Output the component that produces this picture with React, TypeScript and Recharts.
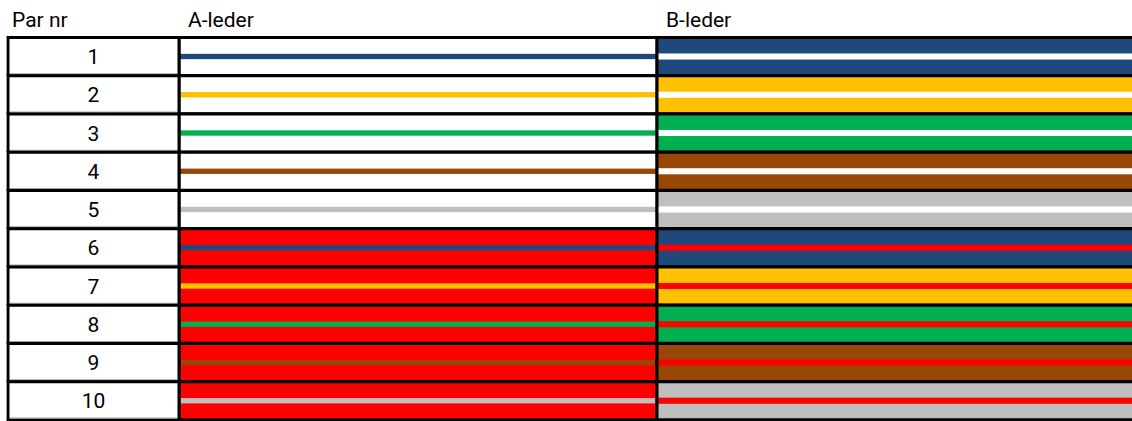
import React from 'react';
import { BarChart, Bar, XAxis, YAxis, Label } from 'recharts';

if (typeof document !== 'undefined') {
  document.body.style.margin = '0';
}

const pairs = ['1', '2', '3', '4', '5', '6', '7', '8', '9', '10'];
const pairColors = ['#1F497D', '#FFC000', '#00B050', '#974706', '#BFBFBF', '#1F497D', '#FFC000', '#00B050', '#974706', '#BFBFBF'];
const markerColors = ['#FFFFFF', '#FFFFFF', '#FFFFFF', '#FFFFFF', '#FFFFFF', '#FF0000', '#FF0000', '#FF0000', '#FF0000', '#FF0000'];
const aLeder = [1, 1, 1, 1, 1, 1, 1, 1, 1, 1];
const bLeder = [1, 1, 1, 1, 1, 1, 1, 1, 1, 1];
const headerLabels = ['A-leder', 'B-leder'];
const headerTicks = [0, 1];
const firstHeader = 'Par nr';

const data = pairs.map((p, i) => ({
  pair: p,
  a: aLeder[i],
  b: bLeder[i],
  color: pairColors[i],
  marker: markerColors[i],
}));

const FONT = 'Roboto, "Open Sans", sans-serif';
const FS = 21;

const Cell = (props: any, bgKey: string, stripeKey: string, stripeFrac: number) => {
  const { x, y, width, height, payload } = props;
  const s = height * stripeFrac;
  return (
    <g>
      <rect x={x} y={y} width={width} height={height} fill={payload[bgKey]} />
      <rect x={x} y={y + height / 2 - s / 2} width={width} height={s} fill={payload[stripeKey]} />
      <rect x={x} y={y} width={width} height={height} fill="none" stroke="#000" strokeWidth={3} />
    </g>
  );
};

const AShape = (props: any) => Cell(props, 'marker', 'color', 0.14);
const BShape = (props: any) => Cell(props, 'color', 'marker', 0.16);

const PairTick = (props: any) => {
  const { x, y, width, height, visibleTicksCount, payload } = props;
  const rowH = height / visibleTicksCount;
  const left = x - width / 2 + 8;
  const right = x + width / 2;
  return (
    <g>
      <rect x={left} y={y - rowH / 2} width={right - left} height={rowH} fill="#fff" stroke="#000" strokeWidth={3} />
      <line x1={left - 1.5} x2={left - 1.5} y1={y - rowH / 2} y2={y + rowH / 2} stroke="#A0A0A0" strokeWidth={1} />
      <line x1={left + 2} x2={right - 2} y1={y + rowH / 2 - 2} y2={y + rowH / 2 - 2} stroke="#A0A0A0" strokeWidth={1} />
      <text x={x + 4} y={y + 7.5} textAnchor="middle" fontFamily={FONT} fontSize={FS} fill="#000">
        {payload.value}
      </text>
    </g>
  );
};

const HeaderTick = (props: any) => {
  const { x, y, payload, index } = props;
  return (
    <text x={x + 9} y={y} textAnchor="start" fontFamily={FONT} fontSize={FS} fill="#000">
      {headerLabels[index] ?? String(payload.value)}
    </text>
  );
};

const ParLabel = (props: any) => {
  const { viewBox } = props;
  return (
    <text x={viewBox.x + 12} y={viewBox.y - 10.5} fontFamily={FONT} fontSize={FS} fill="#000">
      {firstHeader}
    </text>
  );
};

export default function App() {
  return (
    <div style={{ width: 1132, height: 421, overflow: 'hidden', background: '#fff' }}>
      <BarChart
        width={1135}
        height={421}
        data={data}
        layout="vertical"
        barCategoryGap={0}
        barGap={0}
        margin={{ top: 0, right: 0, bottom: 1, left: 0 }}
      >
        <XAxis
          type="number"
          orientation="top"
          domain={[0, 2]}
          ticks={headerTicks}
          interval={0}
          height={37.5}
          axisLine={false}
          tickLine={false}
          tickSize={0}
          tickMargin={10.5}
          tick={<HeaderTick />}
        />
        <YAxis
          type="category"
          dataKey="pair"
          width={179}
          axisLine={false}
          tickLine={false}
          tickSize={0}
          tickMargin={89.5}
          interval={0}
          tick={<PairTick />}
        >
          <Label content={<ParLabel />} />
        </YAxis>
        <Bar dataKey="a" stackId="s" shape={AShape} isAnimationActive={false} />
        <Bar dataKey="b" stackId="s" shape={BShape} isAnimationActive={false} />
      </BarChart>
    </div>
  );
}
